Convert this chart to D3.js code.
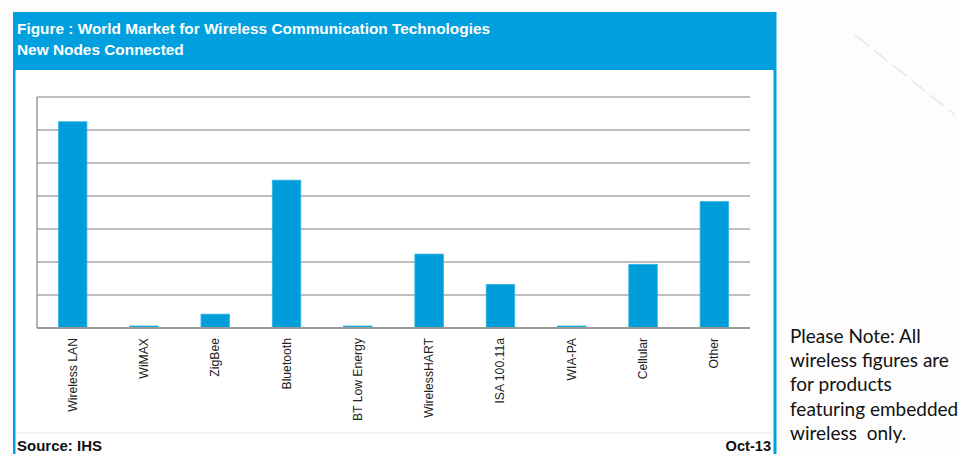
<!DOCTYPE html>
<html>
<head>
<meta charset="utf-8">
<script src="https://cdn.jsdelivr.net/npm/d3@7/dist/d3.min.js"></script>
<style>
  html, body { margin: 0; padding: 0; background: #fff; }
  svg { display: block; }
</style>
</head>
<body>
<svg id="chart" width="958" height="454"></svg>
<script>
// Wireless technologies and new nodes connected (gridline units)
const categories = ["Wireless LAN", "WiMAX", "ZigBee", "Bluetooth", "BT Low Energy",
  "WirelessHART", "ISA 100.11a", "WIA-PA", "Cellular", "Other"];
const nodes = [6.25, 0.06, 0.42, 4.48, 0.06, 2.24, 1.32, 0.06, 1.93, 3.83];
const yTicks = [0, 1, 2, 3, 4, 5, 6, 7];
const titleLines = ["Figure : World Market for Wireless Communication Technologies", "New Nodes Connected"];
const noteLines = ["Please Note: All", "wireless figures are", "for products", "featuring embedded", "wireless  only."];

const svg = d3.select("#chart");
const blue = "#009fdd";
const barBlue = "#009ddb";

// page background with a faint diagonal streak on the right
svg.append("rect").attr("width", 958).attr("height", 454).attr("fill", "#fdfdfd");
svg.append("line").attr("x1", 855).attr("y1", 35).attr("x2", 955).attr("y2", 115)
  .attr("stroke", "#e4e4e4").attr("stroke-width", 1.2).attr("stroke-dasharray", "18 6");

// figure frame
svg.append("rect").attr("x", 13).attr("y", 12).attr("width", 763).attr("height", 450)
  .attr("fill", "#fff");
svg.append("rect").attr("x", 13).attr("y", 12).attr("width", 763).attr("height", 58)
  .attr("fill", blue);
svg.append("rect").attr("x", 13).attr("y", 12).attr("width", 2.5).attr("height", 450).attr("fill", blue);
svg.append("rect").attr("x", 773.5).attr("y", 12).attr("width", 3).attr("height", 450).attr("fill", blue);

svg.append("g").selectAll("text").data(titleLines).join("text")
  .attr("x", 17).attr("y", (d, i) => 34 + i * 21)
  .attr("fill", "#fff").attr("font-family", "Liberation Sans, Arial, sans-serif")
  .attr("font-weight", "bold").attr("font-size", 15.4)
  .text(d => d);

// plot
const margin = { left: 37, right: 750, top: 97, bottom: 328 };
const x = d3.scaleBand().domain(categories).range([margin.left, margin.right])
  .paddingInner(0.6).paddingOuter(0.3);
const y = d3.scaleLinear().domain([0, 7]).range([margin.bottom, margin.top]);

const grid = svg.append("g");
grid.selectAll("line").data(yTicks.filter(t => t > 0)).join("line")
  .attr("x1", margin.left).attr("x2", margin.right)
  .attr("y1", d => y(d)).attr("y2", d => y(d))
  .attr("stroke", "#a9a9a9").attr("stroke-width", 1.6);

svg.append("line").attr("x1", margin.left).attr("x2", margin.left)
  .attr("y1", margin.top).attr("y2", margin.bottom)
  .attr("stroke", "#a0a0a0").attr("stroke-width", 1.6);

svg.append("g").selectAll("rect").data(nodes).join("rect")
  .attr("x", (d, i) => x(categories[i]))
  .attr("width", x.bandwidth())
  .attr("y", d => y(d))
  .attr("height", d => y(0) - y(d))
  .attr("fill", barBlue)
  .attr("stroke", "#33b4e6").attr("stroke-width", 0.8);

svg.append("line").attr("x1", margin.left).attr("x2", margin.right)
  .attr("y1", y(0)).attr("y2", y(0))
  .attr("stroke", "#999").attr("stroke-width", 2);

// category labels, rotated
svg.append("g").selectAll("text").data(categories).join("text")
  .attr("transform", d => `translate(${x(d) + x.bandwidth() / 2 + 4},338) rotate(-90)`)
  .attr("text-anchor", "end")
  .attr("fill", "#222").attr("font-family", "Liberation Sans, Arial, sans-serif")
  .attr("font-size", 12.2)
  .text(d => d);

// footer
svg.append("line").attr("x1", 16).attr("x2", 772).attr("y1", 433).attr("y2", 433)
  .attr("stroke", "#eef2f6").attr("stroke-width", 1.5);
svg.append("text").attr("x", 17).attr("y", 451)
  .attr("font-family", "Liberation Sans, Arial, sans-serif").attr("font-weight", "bold")
  .attr("font-size", 15).attr("fill", "#111").text("Source: IHS");
svg.append("text").attr("x", 771).attr("y", 451).attr("text-anchor", "end")
  .attr("font-family", "Liberation Sans, Arial, sans-serif").attr("font-weight", "bold")
  .attr("font-size", 14.6).attr("fill", "#111").text("Oct-13");

// side note
svg.append("g").selectAll("text").data(noteLines).join("text")
  .attr("x", 790).attr("y", (d, i) => 343 + i * 24.2)
  .attr("font-family", "Lato, Open Sans, sans-serif").attr("font-size", 19)
  .attr("fill", "#111")
  .style("white-space", "pre")
  .text(d => d);
</script>
</body>
</html>
